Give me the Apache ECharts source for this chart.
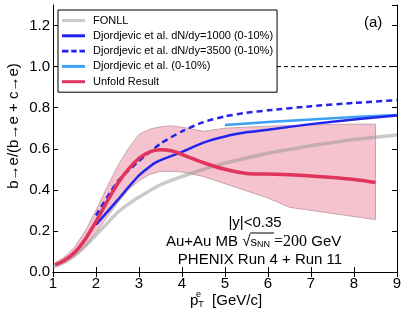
<!DOCTYPE html>
<html><head><meta charset="utf-8">
<script src="https://cdn.jsdelivr.net/npm/echarts@6/dist/echarts.min.js"></script>
<style>html,body{margin:0;padding:0;background:#fff}#c{width:407px;height:316px}</style>
</head><body><div id="c"></div>
<script>
// ---- data ----
const xTicks = [1,2,3,4,5,6,7,8,9];
const yTicks = [0.0,0.2,0.4,0.6,0.8,1.0,1.2];
const fonllX = [1,1.25,1.5,1.75,2,2.25,2.5,2.75,3,3.5,4,4.5,5,5.5,6,6.5,7,7.5,8,8.5,9];
const fonllY = [0.025,0.045,0.08,0.125,0.18,0.235,0.29,0.33,0.365,0.425,0.465,0.5,0.53,0.555,0.578,0.597,0.615,0.63,0.645,0.656,0.667];
const dj1000X = [2,2.5,3,3.4,4,4.5,5,5.5,6,7,8,9];
const dj1000Y = [0.23,0.35,0.47,0.535,0.585,0.63,0.66,0.68,0.693,0.72,0.743,0.762];
const dj3500X = [2,2.5,3,3.5,4,4.5,5,5.5,6,7,8,9];
const dj3500Y = [0.275,0.44,0.54,0.625,0.685,0.73,0.758,0.775,0.787,0.807,0.823,0.837];
const djX = [5,6,7,8,9];
const djY = [0.716,0.73,0.743,0.755,0.765];
const unfoldX = [1.05,1.25,1.5,1.75,2.0,2.25,2.5,2.75,3.0,3.25,3.5,3.75,4.0,4.5,5.0,5.5,6.0,6.5,7.0,7.5,8.0,8.5];
const unfoldY = [0.035,0.055,0.095,0.16,0.245,0.34,0.43,0.5,0.553,0.585,0.595,0.59,0.572,0.532,0.5,0.48,0.477,0.474,0.468,0.46,0.45,0.436];
const bandLow = [0.03,0.045,0.075,0.125,0.19,0.265,0.335,0.4,0.445,0.475,0.49,0.49,0.487,0.465,0.43,0.395,0.36,0.315,0.3,0.285,0.27,0.255];
const bandHigh = [0.045,0.07,0.12,0.2,0.3,0.41,0.515,0.6,0.67,0.695,0.707,0.712,0.705,0.685,0.70,0.705,0.71,0.713,0.715,0.718,0.72,0.72];
const refLine = [[1,1.0],[9,1.0]];

const zip = (xs, ys) => xs.map((x,i)=>[x, ys[i]]);
const F = 'Liberation Sans, Arial, sans-serif';
const chart = echarts.init(document.getElementById('c'), null, {renderer:'canvas'});

const axisCommon = {
  type:'value', axisLine:{show:true, lineStyle:{color:'#000', width:1}},
  axisTick:{show:true, inside:true, length:5, lineStyle:{color:'#000'}},
  splitLine:{show:false}
};
const BLUE = '#2323ee', LBLUE = '#3d9ff5', RED = '#e0345c', GREY = 'rgba(150,150,150,0.5)';
const dashIcon = 'path://M0,0h7v3h-7z M10,0h6v3h-6z M19,0h6v3h-6z';
chart.setOption({
  animation:false,
  grid:{left:53, right:10, top:5, bottom:44},
  xAxis:[
    Object.assign({}, axisCommon, {min:1, max:9, interval:1, position:'bottom',
      axisLabel:{color:'#000', fontFamily:F, fontSize:15, margin:4, formatter:v=>String(v)}}),
    Object.assign({}, axisCommon, {min:1, max:9, interval:1, position:'top', axisLabel:{show:false}})
  ],
  yAxis:[
    Object.assign({}, axisCommon, {min:0, max:1.3, interval:0.2, position:'left',
      axisLabel:{color:'#000', fontFamily:F, fontSize:15, margin:3, showMaxLabel:false, formatter:v=>v.toFixed(1)}}),
    Object.assign({}, axisCommon, {min:0, max:1.3, interval:0.2, position:'right', axisLabel:{show:false}})
  ],
  legend:{
    left:58, top:10, orient:'vertical', backgroundColor:'#fff', borderColor:'#000', borderWidth:1, borderRadius:0,
    padding:[4,4,4,4], itemGap:2.3, itemWidth:23, itemHeight:3,
    textStyle:{fontFamily:F, fontSize:11, color:'#000', lineHeight:13, padding:[0,0,0,3]},
    data:[
      {name:'FONLL', icon:'rect'},
      {name:'Djordjevic et al. dN/dy=1000 (0-10%)', icon:'rect'},
      {name:'Djordjevic et al. dN/dy=3500 (0-10%)', icon:dashIcon},
      {name:'Djordjevic et al. (0-10%)', icon:'rect'},
      {name:'Unfold Result', icon:'rect'}
    ]
  },
  series:[
    {type:'custom', name:'band', silent:true, z:1,
      data:zip(unfoldX, bandLow),
      renderItem:function(params, api){
        if (params.dataIndex !== 0) return null;
        const pts = [];
        for (let i=0;i<unfoldX.length;i++) pts.push(api.coord([unfoldX[i], bandHigh[i]]));
        for (let i=unfoldX.length-1;i>=0;i--) pts.push(api.coord([unfoldX[i], bandLow[i]]));
        return {type:'polygon', shape:{points:pts, smooth:0}, style:{fill:'#f4c3cd', stroke:'#c8a3ad', lineWidth:1}};
      }},
    {type:'line', name:'ref', data:refLine, symbol:'none', silent:true,
      lineStyle:{width:1, color:'#000', type:[4,3]}, z:1},
    {type:'line', name:'FONLL', data:zip(fonllX, fonllY), symbol:'none', showSymbol:false, smooth:0.3,
      lineStyle:{width:3.5, color:GREY}, itemStyle:{color:GREY}, z:3},
    {type:'line', name:'Djordjevic et al. dN/dy=1000 (0-10%)', data:zip(dj1000X, dj1000Y), symbol:'none', showSymbol:false, smooth:0.2,
      lineStyle:{width:2.5, color:BLUE}, itemStyle:{color:BLUE}, z:4},
    {type:'line', name:'Djordjevic et al. dN/dy=3500 (0-10%)', data:zip(dj3500X, dj3500Y), symbol:'none', showSymbol:false, smooth:0.2,
      lineStyle:{width:2.5, color:BLUE, type:[6,4]}, itemStyle:{color:BLUE}, z:4},
    {type:'line', name:'Djordjevic et al. (0-10%)', data:zip(djX, djY), symbol:'none', showSymbol:false, smooth:0.2,
      lineStyle:{width:2.5, color:LBLUE}, itemStyle:{color:LBLUE}, z:3},
    {type:'line', name:'Unfold Result', data:zip(unfoldX, unfoldY), symbol:'none', showSymbol:false, smooth:0.3,
      lineStyle:{width:3.5, color:RED}, itemStyle:{color:RED}, z:5}
  ],
  graphic:[
    {type:'text', left:364, top:15, style:{text:'(a)', font:'15px '+F, fill:'#000'}},
    {type:'text', x:14, y:126, rotation:Math.PI/2, style:{text:'b→e/(b→e + c→e)', font:'15px '+F, fill:'#000', align:'center', verticalAlign:'middle'}},
    {type:'text', x:255, y:223, style:{text:'|y|<0.35', font:'15px '+F, fill:'#000', align:'center', verticalAlign:'middle'}},
    {type:'text', x:166, y:242, style:{text:'{a|Au+Au MB }{r|√}{s|s}{n|NN}{m|\u00a0=200}{g|\u00a0GeV}', align:'left', verticalAlign:'middle',
      rich:{a:{font:'15px '+F, fill:'#000'}, r:{font:'15px '+F}, s:{font:'13px '+F}, n:{font:'9px '+F, padding:[6,0,0,0]},
        m:{font:'16px Liberation Serif, serif'}, g:{font:'15px '+F}}}},
    {type:'line', shape:{x1:250, y1:233, x2:274, y2:233}, style:{stroke:'#000', lineWidth:1}},
    {type:'text', x:260, y:260, style:{text:'PHENIX Run 4 + Run 11', font:'15px '+F, fill:'#000', align:'center', verticalAlign:'middle'}},
    {type:'text', x:226, y:301, style:{text:'{p|p}{t|T}{g|  [GeV/c]}', align:'center', verticalAlign:'middle',
      rich:{p:{font:'15px '+F}, t:{font:'9px '+F, padding:[8,0,0,0]}, g:{font:'15px '+F}}}},
    {type:'text', x:196, y:290, style:{text:'e', font:'9px '+F, fill:'#000'}}
  ]
});
</script></body></html>
